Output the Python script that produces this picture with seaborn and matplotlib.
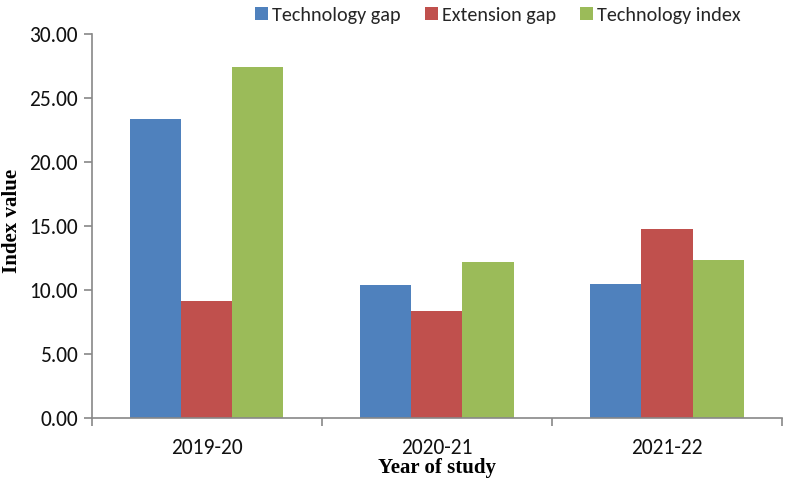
import pandas as pd
import matplotlib.pyplot as plt
import matplotlib.ticker as mticker
import seaborn as sns

years = ['2019-20', '2020-21', '2021-22']
technology_gap = [23.33, 10.43, 10.50]
extension_gap = [9.18, 8.35, 14.80]
technology_index = [27.42, 12.24, 12.34]
series = ['Technology gap', 'Extension gap', 'Technology index']
colores = ['#4F81BD', '#C0504D', '#9BBB59']

df = pd.DataFrame({
    'year': years * 3,
    'serie': [s for s in series for _ in years],
    'valor': technology_gap + extension_gap + technology_index,
})

sns.set_theme(style="white")
plt.rcParams['font.family'] = ['Carlito', 'DejaVu Sans']
serif = ['Liberation Serif', 'DejaVu Serif']

fig = plt.figure(figsize=(7.85, 4.78), dpi=100)
ax = fig.add_axes([0.1166, 0.1245, 0.8796, 0.8044])

sns.barplot(data=df, x='year', y='valor', hue='serie', order=years,
            hue_order=series, palette=colores, width=0.667, gap=0,
            saturation=1, edgecolor='none', ax=ax)

ax.set_ylim(0, 30)
ax.set_xlim(-0.5, 2.5)
ax.yaxis.set_major_locator(mticker.MultipleLocator(5))
ax.yaxis.set_major_formatter(mticker.FormatStrFormatter('%.2f'))

# ticks del eje x en los límites de categoría, etiquetas en el centro
ax.set_xticks([-0.5, 0.5, 1.5, 2.5])
ax.set_xticklabels([])
ax.set_xticks([0, 1, 2], minor=True)
ax.set_xticklabels(years, minor=True)
ax.tick_params(axis='x', which='major', length=6, width=1.2, color='#888888',
               direction='out', bottom=True)
ax.tick_params(axis='x', which='minor', length=0, labelsize=15.5, pad=14, colors='#111111')
ax.tick_params(axis='y', length=6, width=1.2, color='#888888', direction='out', left=True,
               labelsize=15.5, pad=4, labelcolor='#111111')

for lado in ['top', 'right']:
    ax.spines[lado].set_visible(False)
for lado in ['left', 'bottom']:
    ax.spines[lado].set_color('#888888')
    ax.spines[lado].set_linewidth(1.2)

ax.set_xlabel("Year of study", fontsize=15, fontweight='bold', family=serif, color='black')
ax.set_ylabel("Index value", fontsize=15, fontweight='bold', family=serif, color='black')
ax.xaxis.set_label_coords(0.5, -0.102)
ax.yaxis.set_label_coords(-0.1, 0.515)

ax.get_legend().remove()
handles, labels = ax.get_legend_handles_labels()
fig.legend(handles, labels, loc='center left', bbox_to_anchor=(255 / 785, 1 - 15 / 478),
           ncol=3, frameon=False, fontsize=14.5, handlelength=0.65, handleheight=0.65,
           handletextpad=0.2, columnspacing=1.2, borderpad=0, borderaxespad=0)

fig.savefig('out.png', dpi=100)
